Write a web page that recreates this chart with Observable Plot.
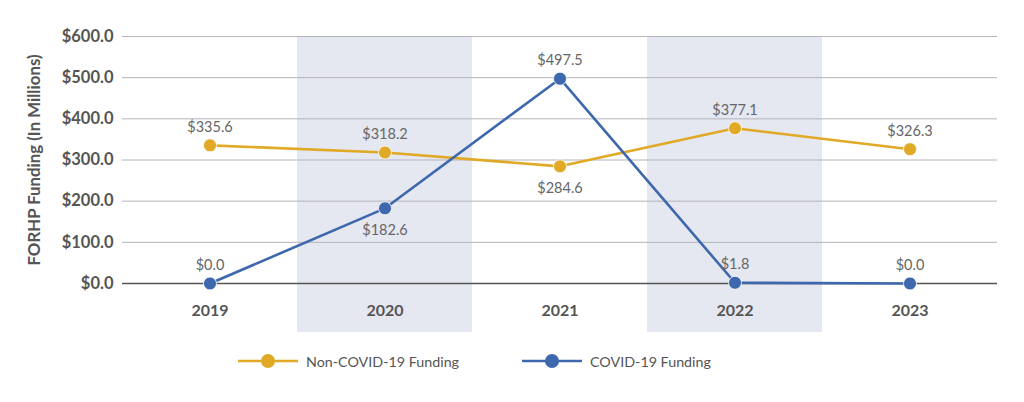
<!DOCTYPE html>
<html>
<head>
<meta charset="utf-8">
<script src="https://cdn.jsdelivr.net/npm/d3@7"></script>
<script src="https://cdn.jsdelivr.net/npm/@observablehq/plot@0.6"></script>
<style>
  body { margin: 0; background: #fff; font-family: Lato, sans-serif; }
  #wrap { position: relative; width: 1024px; height: 402px; }
  #legend { position: absolute; left: 0; top: 340px; width: 1024px; height: 40px; }
  .item { position: absolute; top: 10px; height: 22px; display: flex; align-items: center; font: 14.3px Lato, sans-serif; color: #555; }
  .item svg { margin-right: 8px; }
</style>
</head>
<body>
<div id="wrap">
  <div id="chart"></div>
  <div id="legend"></div>
</div>
<script>
const years = ["2019", "2020", "2021", "2022", "2023"];
const nonCovid = [335.6, 318.2, 284.6, 377.1, 326.3];
const covid = [0.0, 182.6, 497.5, 1.8, 0.0];
const seriesNames = ["Non-COVID-19 Funding", "COVID-19 Funding"];
const seriesColors = ["#e0a926", "#3e68ad"];
const shadedYears = ["2020", "2022"];
const yTicks = [0, 100, 200, 300, 400, 500, 600];
const yDomain = [0, 600];
const yLabel = "FORHP Funding (In Millions)";

const rows = [];
[nonCovid, covid].forEach((vals, si) => {
  const other = si === 0 ? covid : nonCovid;
  vals.forEach((v, i) => rows.push({
    year: years[i], value: v, series: seriesNames[si],
    below: v < other[i] && v > 50
  }));
});
const fmt = v => "$" + v.toFixed(1);

const chart = Plot.plot({
  width: 1024,
  height: 340,
  marginLeft: 122,
  marginRight: 27,
  marginTop: 36,
  marginBottom: 8,
  style: { fontFamily: "Lato, sans-serif", background: "#fff" },
  x: { type: "band", domain: years, padding: 0, axis: null },
  y: { domain: yDomain, range: [283, 36], axis: null },
  color: { domain: seriesNames, range: seriesColors },
  marks: [
    Plot.cell(shadedYears, { x: d => d, fill: "#e5e7f1", inset: 0 }),
    Plot.gridY(yTicks, { stroke: "#b4b4bc", strokeOpacity: 1, strokeWidth: 1 }),
    Plot.ruleY([0], { stroke: "#555", strokeWidth: 1.6 }),
    Plot.axisY(yTicks, {
      tickSize: 0, tickPadding: 9, tickFormat: fmt,
      fontSize: 16.5, fontWeight: "bold", fill: "#555", label: null
    }),
    Plot.text([yLabel], {
      y: () => (yDomain[0] + yDomain[1]) / 2, frameAnchor: "left", textAnchor: "middle",
      text: d => d, dx: -88, rotate: -90, fontSize: 16.8, fontWeight: "bold", fill: "#555"
    }),
    Plot.text(years, {
      x: d => d, y: () => 0, text: d => d, dy: 27,
      fontSize: 16, fontWeight: "bold", fill: "#555"
    }),
    Plot.line(rows, { x: "year", y: "value", z: "series", stroke: "series", strokeWidth: 2.6 }),
    Plot.dot(rows, { x: "year", y: "value", fill: "series", r: 6.5, stroke: "#fff", strokeWidth: 0.8 }),
    Plot.text(rows, {
      x: "year", y: "value", text: d => fmt(d.value),
      fontSize: 14.5, fill: "#666",
      dy: -18, filter: d => !d.below
    }),
    Plot.text(rows, {
      x: "year", y: "value", text: d => fmt(d.value),
      fontSize: 14.5, fill: "#666",
      dy: 22, filter: d => d.below
    })
  ]
});
document.getElementById("chart").appendChild(chart);

const legend = document.getElementById("legend");
const legendLefts = [238, 522];
seriesNames.forEach((name, i) => {
  const div = document.createElement("div");
  div.className = "item";
  div.style.left = legendLefts[i] + "px";
  div.innerHTML = `<svg width="60" height="16"><line x1="0" x2="60" y1="8" y2="8" stroke="${seriesColors[i]}" stroke-width="2.6"/><circle cx="30" cy="8" r="7" fill="${seriesColors[i]}"/></svg><span>${name}</span>`;
  legend.appendChild(div);
});
</script>
</body>
</html>
